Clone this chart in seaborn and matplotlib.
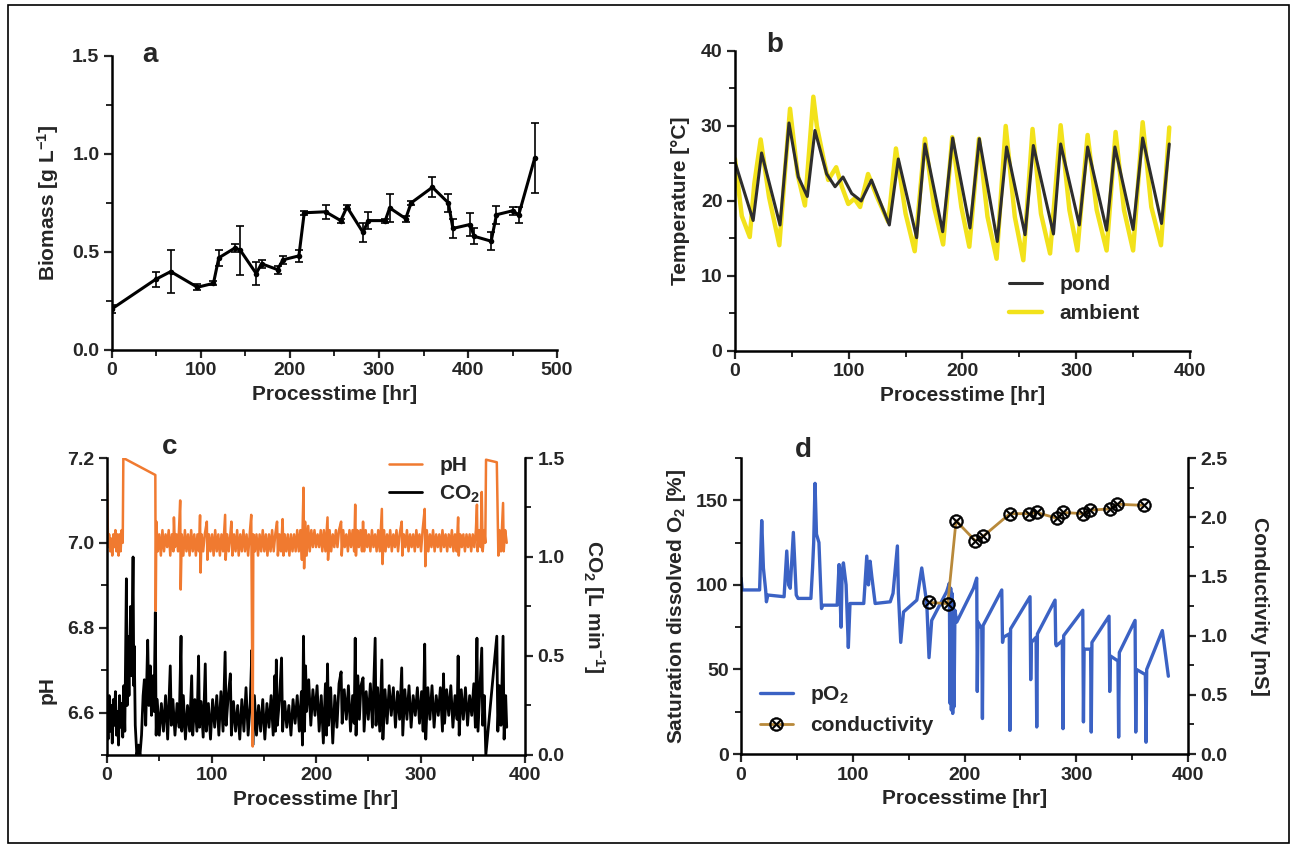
import numpy as np
import pandas as pd
import seaborn as sns
import matplotlib.pyplot as plt
from matplotlib.patches import Rectangle
from matplotlib.ticker import MultipleLocator

sns.set_theme(style="ticks")
plt.rcParams['font.family'] = ['Liberation Sans', 'DejaVu Sans']
plt.rcParams['font.weight'] = 'bold'
plt.rcParams['axes.labelweight'] = 'bold'
plt.rcParams['mathtext.fontset'] = 'custom'
plt.rcParams['mathtext.rm'] = 'Liberation Sans:bold'
plt.rcParams['mathtext.default'] = 'regular'

# a: biomass
bio_time = [0, 49, 66, 96, 114, 120, 138, 144, 162, 168, 186, 192, 210, 216, 240, 257, 264,
            282, 288, 307, 312, 330, 336, 360, 378, 383, 402, 407, 426, 432, 450, 457, 475]
bio_value = [0.21, 0.36, 0.40, 0.32, 0.34, 0.47, 0.52, 0.51, 0.39, 0.44, 0.41, 0.46, 0.48, 0.70,
             0.705, 0.66, 0.73, 0.60, 0.66, 0.66, 0.725, 0.67, 0.75, 0.83, 0.75, 0.62, 0.64,
             0.58, 0.555, 0.69, 0.71, 0.69, 0.98]
bio_err = [0.02, 0.04, 0.11, 0.015, 0.01, 0.04, 0.02, 0.125, 0.06, 0.02, 0.02, 0.02, 0.03, 0.01,
           0.035, 0.01, 0.01, 0.05, 0.045, 0.01, 0.07, 0.015, 0.01, 0.05, 0.045, 0.05, 0.06,
           0.04, 0.045, 0.045, 0.02, 0.04, 0.18]

# b: temperature
pond_time = [0, 16, 23.4, 39.6, 47.5, 55.7, 63.6, 70.3, 80.6, 88, 95, 102.6, 111, 120, 135.7,
             143.6, 159.7, 167, 182.6, 191.4, 206.6, 214.8, 230.6, 238.8, 255, 262.3, 280,
             286.3, 302.7, 310, 326.7, 334, 350, 358.4, 375, 381.8]
pond_temp = [25.2, 17.4, 26.4, 16.8, 30.4, 23.2, 20.6, 29.4, 23.6, 21.9, 23.2, 21.0, 20.0, 22.8,
             16.8, 25.6, 15.1, 27.6, 15.9, 28.4, 16.4, 28.3, 14.6, 27.2, 15.5, 27.4, 15.6,
             27.6, 16.8, 27.2, 16.1, 27.2, 16.2, 28.4, 17.0, 27.6]
amb_time = [0, 6, 13, 17, 22.6, 30, 39, 44, 48.4, 55, 61.5, 68.9, 72, 78, 82, 89, 94, 99.6, 105,
            110, 117, 125, 134.8, 141.5, 150, 158, 167, 175, 183, 191, 199, 206, 214.5, 222,
            230, 238, 246, 253.5, 261.6, 269, 277, 286.3, 294, 301, 310, 318, 326.7, 334.6,
            342, 350, 358.4, 366, 374.5, 381.8]
amb_temp = [25.6, 18.0, 15.2, 22.3, 28.2, 20.5, 14.1, 24.0, 32.3, 23.6, 19.4, 33.9, 30.0, 25.5,
            22.8, 24.5, 21.9, 19.6, 20.3, 19.2, 23.6, 20.5, 17.2, 27.0, 18.3, 13.3, 28.3, 19.2,
            14.2, 28.5, 19.2, 13.9, 28.3, 17.9, 12.3, 30.0, 17.9, 12.1, 29.6, 18.3, 13.0, 30.1,
            18.8, 13.4, 28.8, 18.8, 13.4, 29.2, 18.8, 13.4, 30.5, 19.2, 14.1, 29.8]

# c: pH and CO2
ph_time = [0, 1, 2, 3, 4, 5, 6, 7, 8, 9, 10, 11, 12, 13, 14, 15, 15.6, 46.2, 46.6, 47.2, 48.5,
           50, 51.5, 53, 54.5, 56, 57.5, 59, 60.5, 62, 63.5, 64, 65, 66.5, 68, 70, 70.5, 71.5,
           73, 74.5, 76, 77.5, 79, 80.5, 82, 83.5, 85, 86.5, 88, 89, 89.5, 90.5, 92, 93.5,
           95.5, 96, 97.5, 99, 100.5, 102, 103.5, 105, 106.5, 108, 109.5, 111, 113, 113.5,
           115, 116.5, 118, 119, 120, 121.5, 123, 124.5, 126, 127.5, 129, 130.5, 132, 133.5,
           135, 136.5, 138, 139.4, 140, 141.5, 143, 144.5, 146, 147.5, 149, 150.5, 152,
           153.5, 155, 156.5, 158, 159.5, 161, 162.7, 163.5, 165, 166.5, 168, 168.8, 170,
           171.5, 173, 174.5, 176, 177.5, 179, 180.5, 182, 183.5, 185, 186.5, 188, 188.6,
           189.5, 191, 192.5, 194, 195.5, 197, 198.5, 200, 201.5, 203, 204.5, 206, 207.5,
           209, 211, 211.5, 213, 214.5, 216, 217.5, 219, 220.5, 222, 224, 224.6, 226, 227.5,
           229, 230.5, 232, 233.5, 235, 236.5, 237.5, 238.2, 239.5, 241, 242.5, 244, 245,
           246, 247.5, 249, 250.5, 252, 253.5, 255, 256.5, 258, 259.5, 261, 263, 263.6, 265,
           266.5, 268, 269.5, 271, 272.5, 274, 275.5, 277, 278.5, 280, 282, 282.6, 284,
           285.5, 287, 288.5, 290, 291.5, 293, 294.5, 296, 297.5, 299, 300.5, 302, 304,
           304.6, 306, 307.5, 309, 310.5, 312, 313.5, 315, 316.5, 318, 319.5, 321, 322.5,
           324, 325.5, 327, 328.5, 330, 331.5, 333, 334.5, 336, 336.6, 338, 339.5, 341,
           342.5, 344, 345.5, 347, 348.5, 350, 351.5, 353, 354, 354.6, 356, 357.5, 358.6,
           359.5, 361, 362, 362.7, 373, 374.5, 375.5, 377, 379, 379.6, 381, 382.5]
ph_value = [7.14, 6.99, 7.02, 6.98, 7.01, 6.97, 7.02, 6.99, 7.03, 6.98, 7.02, 6.97, 7.02, 6.98,
            7.03, 7.00, 7.20, 7.16, 6.84, 7.05, 6.98, 7.02, 6.97, 7.03, 6.98, 7.02, 6.99, 7.03,
            6.97, 7.02, 6.98, 7.06, 6.99, 7.02, 6.98, 7.10, 6.89, 7.02, 6.97, 7.03, 6.98, 7.02,
            6.97, 7.03, 6.98, 7.02, 6.97, 7.02, 6.98, 7.065, 6.93, 7.02, 6.98, 7.02, 7.05, 6.96,
            7.02, 6.98, 7.02, 6.97, 7.03, 6.98, 7.02, 6.97, 7.02, 6.98, 7.066, 6.96, 7.02, 6.98,
            7.02, 7.05, 6.97, 7.02, 6.98, 7.03, 6.97, 7.02, 6.98, 7.03, 6.98, 7.02, 6.97, 7.02,
            7.066, 6.52, 7.02, 6.98, 7.02, 6.97, 7.02, 6.98, 7.03, 6.98, 7.02, 6.97, 7.02, 6.98,
            7.03, 6.98, 7.02, 7.05, 6.97, 7.02, 6.98, 7.056, 6.97, 7.02, 6.98, 7.02, 6.97, 7.02,
            6.98, 7.02, 6.98, 7.03, 6.98, 7.03, 6.96, 7.13, 6.94, 7.05, 6.97, 7.04, 6.98, 7.03,
            6.99, 7.03, 6.99, 7.02, 6.99, 7.03, 6.98, 7.03, 6.98, 7.06, 6.96, 7.03, 6.98, 7.02,
            6.99, 7.03, 6.99, 7.03, 7.05, 6.97, 7.03, 6.99, 7.02, 6.98, 7.03, 6.99, 7.03, 6.98,
            7.09, 6.97, 7.03, 6.99, 7.03, 6.98, 7.05, 6.98, 7.03, 6.99, 7.02, 6.98, 7.03, 6.99,
            7.02, 6.98, 7.03, 6.98, 7.08, 6.95, 7.03, 6.98, 7.02, 6.99, 7.03, 6.98, 7.02, 6.99,
            7.03, 6.98, 7.02, 7.05, 6.97, 7.02, 6.99, 7.03, 6.98, 7.02, 6.99, 7.02, 6.98, 7.03,
            6.99, 7.02, 6.98, 7.03, 7.08, 6.945, 7.03, 6.98, 7.02, 6.99, 7.03, 6.98, 7.02, 6.99,
            7.02, 6.98, 7.03, 6.99, 7.02, 6.98, 7.02, 6.99, 7.03, 6.98, 7.02, 6.98, 7.06, 6.97,
            7.02, 6.99, 7.02, 6.98, 7.02, 6.99, 7.02, 6.98, 7.02, 6.99, 7.03, 7.09, 6.98, 7.03,
            6.99, 7.12, 6.98, 7.03, 7.00, 7.196, 7.19, 6.97, 7.03, 6.98, 7.094, 6.98, 7.03, 7.00]

co2_time = [0, 1, 2, 3, 4, 5, 6, 7, 8, 9, 10, 11, 12, 13, 14, 15, 16, 17, 18.5, 19.2, 19.8, 21,
            22.5, 23.5, 24.9, 25.6, 26, 27, 28.5, 30, 31.5, 33, 34.5, 35.7, 37, 38.9, 40, 41.4,
            42.5, 44, 45, 46.2, 47, 48, 50, 52, 54, 56, 58, 60.5, 61.5, 63, 65, 67, 69, 70.8,
            71.5, 73, 75, 77, 79, 81, 82, 84, 86, 87.6, 88.5, 90, 92, 94, 95, 97, 99, 101, 103,
            105, 107, 109, 111, 113, 114, 116, 118, 119, 121, 123, 125, 127, 129, 131, 133,
            135, 137, 138.6, 139.5, 141, 143, 145, 147, 149, 151, 153, 155, 157, 159, 160.5,
            161.2, 162, 163, 165, 167, 168, 170, 172, 174, 176, 178, 180, 182, 184, 186, 187,
            188, 189, 190, 191, 193, 195, 197, 199, 201, 203, 205, 207, 209, 210, 211, 212,
            214, 216, 218, 220, 222, 224, 225, 227, 229, 231, 233, 235, 236.5, 237.5, 238.3,
            240, 241.5, 243, 245, 246, 248, 250, 252, 254, 256.6, 257.4, 259, 261, 263, 264,
            266, 268, 270, 272, 274, 276, 278, 280, 282, 283, 285, 287, 289, 291, 293, 295,
            297, 299, 301, 302.5, 304, 305, 307, 309, 311, 313, 315, 317, 319, 321, 322, 323,
            325, 327, 329, 331, 333, 335, 336, 337, 339, 341, 343, 345, 347, 349, 351, 352.5,
            354, 355, 357, 358.6, 359.5, 361, 362.5, 373, 374, 375.5, 377, 379, 380, 381.5,
            382.5]
co2_value = [0.22, 0.08, 0.30, 0.12, 0.25, 0.06, 0.28, 0.15, 0.32, 0.10, 0.22, 0.05, 0.30, 0.14,
             0.26, 0.09, 0.35, 0.12, 0.89, 0.25, 0.60, 0.30, 0.75, 0.40, 1.00, 0.35, 0.55, 0.15,
             0.00, 0.05, 0.00, 0.10, 0.30, 0.38, 0.15, 0.58, 0.25, 0.45, 0.20, 0.40, 0.22, 0.72,
             0.10, 0.28, 0.10, 0.26, 0.12, 0.30, 0.08, 0.45, 0.15, 0.28, 0.10, 0.26, 0.14, 0.60,
             0.12, 0.30, 0.08, 0.25, 0.12, 0.40, 0.10, 0.28, 0.12, 0.50, 0.14, 0.27, 0.09, 0.46,
             0.12, 0.26, 0.08, 0.28, 0.14, 0.30, 0.10, 0.32, 0.12, 0.52, 0.15, 0.30, 0.41, 0.10,
             0.27, 0.12, 0.25, 0.08, 0.28, 0.12, 0.34, 0.10, 0.26, 0.53, 0.05, 0.30, 0.10, 0.25,
             0.12, 0.28, 0.08, 0.26, 0.14, 0.30, 0.10, 0.40, 0.12, 0.48, 0.15, 0.28, 0.49, 0.12,
             0.27, 0.14, 0.25, 0.10, 0.28, 0.16, 0.30, 0.12, 0.32, 0.05, 0.60, 0.12, 0.45, 0.22,
             0.38, 0.15, 0.33, 0.20, 0.35, 0.12, 0.30, 0.06, 0.36, 0.10, 0.46, 0.15, 0.34, 0.06,
             0.30, 0.14, 0.36, 0.42, 0.16, 0.33, 0.18, 0.35, 0.12, 0.30, 0.16, 0.59, 0.10, 0.40,
             0.18, 0.35, 0.39, 0.12, 0.32, 0.18, 0.36, 0.14, 0.59, 0.15, 0.34, 0.12, 0.48, 0.08,
             0.33, 0.16, 0.35, 0.20, 0.34, 0.14, 0.32, 0.18, 0.44, 0.10, 0.33, 0.18, 0.35, 0.14,
             0.30, 0.20, 0.34, 0.16, 0.32, 0.12, 0.56, 0.08, 0.34, 0.18, 0.35, 0.14, 0.30, 0.20,
             0.34, 0.12, 0.41, 0.16, 0.33, 0.20, 0.35, 0.14, 0.30, 0.18, 0.50, 0.10, 0.33, 0.18,
             0.34, 0.15, 0.30, 0.20, 0.36, 0.14, 0.59, 0.12, 0.35, 0.54, 0.15, 0.30, 0.00, 0.60,
             0.12, 0.35, 0.15, 0.60, 0.08, 0.30, 0.14]

# d: dissolved oxygen and conductivity
po2_time = [0, 1, 16.6, 18.5, 20, 22, 22.7, 24, 38.5, 40.9, 42.5, 44, 46.8, 49.4, 51, 62.5, 64,
            65, 66.2, 67.5, 69.7, 72, 73, 86, 87.7, 89.5, 90.5, 91.6, 94, 96, 97.5, 109.8,
            112.5, 114, 115.5, 117, 120, 133.5, 136, 139.9, 140.8, 142.9, 145.4, 157.3, 161.7,
            166.2, 168.2, 170.6, 184, 186.4, 187, 187.6, 188.2, 188.8, 189.4, 190, 190.6,
            191.4, 193, 208, 210.9, 211.4, 212, 215.4, 216, 216.6, 233.3, 234, 234.6, 240,
            240.6, 241.2, 258.6, 259.2, 259.8, 264, 264.6, 265.2, 281, 281.6, 282.2, 287.5,
            288.1, 288.7, 305.8, 306.4, 307, 312.8, 313.4, 314, 329.3, 329.9, 330.5, 337.3,
            337.9, 338.5, 352.6, 353.2, 353.8, 361.8, 362.4, 363, 377, 382.4]
po2_value = [104, 97, 97, 138, 110, 97, 90, 94, 93, 120, 100, 98, 131, 94, 92, 92, 110, 125,
             160, 130, 125, 86, 88, 88, 112, 75, 108, 113, 100, 63, 89, 89, 117, 100, 114, 105,
             89, 90, 95, 123, 95, 66, 84, 91, 110, 89, 57, 79, 96, 101, 30, 98, 26, 95, 24, 90,
             28, 85, 78, 98, 104, 37, 78, 74, 21, 76, 97, 66, 69, 71, 14, 74, 93, 44, 66, 69,
             16, 71, 91, 65, 64, 67, 15, 70, 85, 19, 62, 62, 13, 66, 81.5, 37, 58, 55, 10, 60,
             79, 13, 50, 47, 7, 50, 73, 46]
cond_time = [168.6, 185, 192.4, 209.7, 216.8, 240.6, 258, 264.5, 283, 288.3, 306.2, 312, 330.6,
             336, 360.4]
cond_value = [1.28, 1.27, 1.97, 1.80, 1.84, 2.03, 2.03, 2.04, 1.99, 2.04, 2.03, 2.06, 2.07,
              2.11, 2.10]

TICK = 14
LABEL = 15


def style(ax, keep_right=False):
    ax.tick_params(which='major', direction='out', length=6, width=1.6, labelsize=TICK, pad=3)
    ax.tick_params(which='minor', direction='out', length=4, width=1.4)
    for side in ['left', 'bottom', 'right']:
        ax.spines[side].set_linewidth(1.8)
        ax.spines[side].set_color('black')
    ax.spines['top'].set_visible(False)
    if not keep_right:
        ax.spines['right'].set_visible(False)


def line(ax, x, y, **kw):
    df = pd.DataFrame({'x': x, 'y': y})
    sns.lineplot(data=df, x='x', y='y', ax=ax, estimator=None, sort=False, **kw)


def drop_legend(ax):
    if ax.get_legend() is not None:
        ax.get_legend().remove()


fig = plt.figure(figsize=(12.96, 8.48), dpi=100)

# ---- a
ax_a = fig.add_axes([0.0864, 0.5873, 0.3434, 0.3467])
ax_a.errorbar(bio_time, bio_value, yerr=bio_err, fmt='none', ecolor='black',
              elinewidth=1.2, capsize=3, capthick=1.2)
line(ax_a, bio_time, bio_value, color='black', linewidth=2.2, marker='o', markersize=4,
     markeredgewidth=0)
ax_a.set_xlim(0, 500)
ax_a.set_ylim(0, 1.5)
ax_a.xaxis.set_major_locator(MultipleLocator(100))
ax_a.xaxis.set_minor_locator(MultipleLocator(50))
ax_a.yaxis.set_major_locator(MultipleLocator(0.5))
ax_a.yaxis.set_minor_locator(MultipleLocator(0.25))
ax_a.set_xlabel('Processtime [hr]', fontsize=LABEL, labelpad=4)
ax_a.set_ylabel('Biomass [g L$^{-1}$]', fontsize=LABEL, labelpad=8)
style(ax_a)

# ---- b
ax_b = fig.add_axes([0.5671, 0.5861, 0.3511, 0.3538])
line(ax_b, amb_time, amb_temp, color='#F2E21B', linewidth=3.2, label='ambient')
line(ax_b, pond_time, pond_temp, color='#2E2E2E', linewidth=2.2, label='pond')
drop_legend(ax_b)
ax_b.set_xlim(0, 400)
ax_b.set_ylim(0, 40)
ax_b.xaxis.set_major_locator(MultipleLocator(100))
ax_b.xaxis.set_minor_locator(MultipleLocator(50))
ax_b.yaxis.set_major_locator(MultipleLocator(10))
ax_b.yaxis.set_minor_locator(MultipleLocator(5))
ax_b.set_xlabel('Processtime [hr]', fontsize=LABEL, labelpad=4)
ax_b.set_ylabel('Temperature [°C]', fontsize=LABEL, labelpad=8)
style(ax_b)
h, l = ax_b.get_legend_handles_labels()
ax_b.legend([h[1], h[0]], [l[1], l[0]], loc='lower right', bbox_to_anchor=(0.93, 0.03),
            frameon=False, fontsize=LABEL, handlelength=1.6, labelspacing=0.5)

# ---- c
ax_c = fig.add_axes([0.0826, 0.1097, 0.3225, 0.3502])
ax_c2 = ax_c.twinx()
line(ax_c2, co2_time, co2_value, color='black', linewidth=2.0, label='CO$_2$')
line(ax_c, ph_time, ph_value, color='#F07A30', linewidth=1.8, label='pH')
drop_legend(ax_c)
drop_legend(ax_c2)
ax_c.set_zorder(ax_c2.get_zorder() + 1)
ax_c.patch.set_visible(False)
ax_c.set_xlim(0, 400)
ax_c.set_ylim(6.5, 7.2)
ax_c2.set_ylim(0, 1.5)
ax_c.xaxis.set_major_locator(MultipleLocator(100))
ax_c.xaxis.set_minor_locator(MultipleLocator(50))
ax_c.set_yticks([6.6, 6.8, 7.0, 7.2])
ax_c.yaxis.set_minor_locator(MultipleLocator(0.1))
ax_c2.yaxis.set_major_locator(MultipleLocator(0.5))
ax_c2.yaxis.set_minor_locator(MultipleLocator(0.25))
ax_c.set_xlabel('Processtime [hr]', fontsize=LABEL, labelpad=4)
ax_c.set_ylabel('pH', fontsize=LABEL, labelpad=8)
ax_c.yaxis.set_label_coords(-0.12, 0.22)
ax_c2.set_ylabel('CO$_2$ [L min$^{-1}$]', fontsize=LABEL, rotation=270, labelpad=30)
style(ax_c)
style(ax_c2, keep_right=True)
ax_c2.spines['left'].set_visible(False)
ax_c2.spines['bottom'].set_visible(False)
h1, l1 = ax_c.get_legend_handles_labels()
h2, l2 = ax_c2.get_legend_handles_labels()
ax_c.legend(h1 + h2, l1 + l2, loc='upper left', bbox_to_anchor=(0.63, 1.07), frameon=False,
            fontsize=LABEL, handlelength=1.6, labelspacing=0.4)

# ---- d
ax_d = fig.add_axes([0.5718, 0.1108, 0.3449, 0.3491])
ax_d2 = ax_d.twinx()
line(ax_d, po2_time, po2_value, color='#3B62C4', linewidth=2.4, label='pO$_2$')
line(ax_d2, cond_time, cond_value, color='#B8893A', linewidth=2.0, label='conductivity',
     marker=r'$\otimes$', markersize=10, markerfacecolor='black', markeredgecolor='black',
     markeredgewidth=0.4)
drop_legend(ax_d)
drop_legend(ax_d2)
ax_d.set_xlim(0, 400)
ax_d.set_ylim(0, 175)
ax_d2.set_ylim(0, 2.5)
ax_d.xaxis.set_major_locator(MultipleLocator(100))
ax_d.xaxis.set_minor_locator(MultipleLocator(50))
ax_d.yaxis.set_major_locator(MultipleLocator(50))
ax_d.yaxis.set_minor_locator(MultipleLocator(25))
ax_d2.yaxis.set_major_locator(MultipleLocator(0.5))
ax_d2.yaxis.set_minor_locator(MultipleLocator(0.25))
ax_d.set_xlabel('Processtime [hr]', fontsize=LABEL, labelpad=4)
ax_d.set_ylabel('Saturation dissolved O$_2$ [%]', fontsize=LABEL, labelpad=6)
ax_d2.set_ylabel('Conductivity [mS]', fontsize=LABEL, rotation=270, labelpad=30)
style(ax_d)
style(ax_d2, keep_right=True)
ax_d2.spines['left'].set_visible(False)
ax_d2.spines['bottom'].set_visible(False)
h1, l1 = ax_d.get_legend_handles_labels()
h2, l2 = ax_d2.get_legend_handles_labels()
ax_d2.legend(h1 + h2, l1 + l2, loc='lower left', bbox_to_anchor=(0.0, 0.0), frameon=False,
             fontsize=LABEL, handlelength=1.6, labelspacing=0.5)

# panel letters
for letter, px, py in [('a', 150, 55), ('b', 775, 45), ('c', 170, 447), ('d', 803, 450)]:
    fig.text(px / 1296, 1 - py / 848, letter, fontsize=20, fontweight='bold',
             ha='center', va='center')

fig.patches.append(Rectangle((8 / 1296, 5 / 848), 1281 / 1296, 838 / 848,
                             transform=fig.transFigure, fill=False, edgecolor='black',
                             linewidth=1.2))

fig.savefig('out.png', dpi=100)
